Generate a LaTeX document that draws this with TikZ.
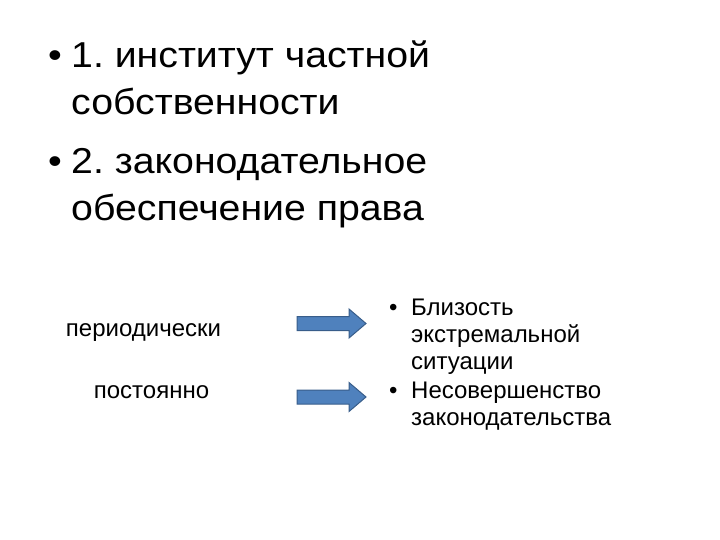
\documentclass[tikz,border=0pt]{standalone}
\usepackage{fontspec}
\setmainfont{Liberation Sans}
\newfontfamily\widefont[FakeStretch=1.09]{Liberation Sans}
\definecolor{arrowfill}{HTML}{4F81BD}
\definecolor{arrowline}{HTML}{385D8A}
\begin{document}
\frenchspacing
\begin{tikzpicture}[x=1pt,y=-1pt,
  big/.style={anchor=base west,inner sep=0pt,font=\widefont\fontsize{36}{43}\selectfont},
  small/.style={anchor=base west,inner sep=0pt,font=\fontsize{24}{29}\selectfont},
  label/.style={anchor=base,inner sep=0pt,font=\fontsize{24}{29}\selectfont},
  arrowshape/.style={fill=arrowfill,draw=arrowline,line width=1pt,line join=miter},
  blockarrow/.pic={\path[arrowshape] (0,-7) -- (52,-7) -- (52,-14.5) -- (69,0) -- (52,14.5) -- (52,7) -- (0,7) -- cycle;}]
\useasboundingbox (0,0) rectangle (720,540);
% top bullets
\node[big] (b1) at (48,68) {•};
\node[big] (t1) at (71,68) {1. институт частной};
\node[big] (t2) at (71,115) {собственности};
\node[big] (b2) at (48,174) {•};
\node[big] (t3) at (71,174) {2. законодательное};
\node[big] (t4) at (71,221) {обеспечение права};
% left labels
\node[label] (p1) at (143.5,336) {периодически};
\node[label] (p2) at (151.5,398) {постоянно};
% arrows
\pic (a1) at (297,323.5) {blockarrow};
\pic (a2) at (297,397) {blockarrow};
% right bullets
\node[small] (r0) at (389,315) {•};
\node[small] (r1) at (411,315) {Близость};
\node[small] (r2) at (411,342) {экстремальной};
\node[small] (r3) at (411,369) {ситуации};
\node[small] (r4) at (389,398) {•};
\node[small] (r5) at (411,398) {Несовершенство};
\node[small] (r6) at (411,425) {законодательства};
\end{tikzpicture}
\end{document}
